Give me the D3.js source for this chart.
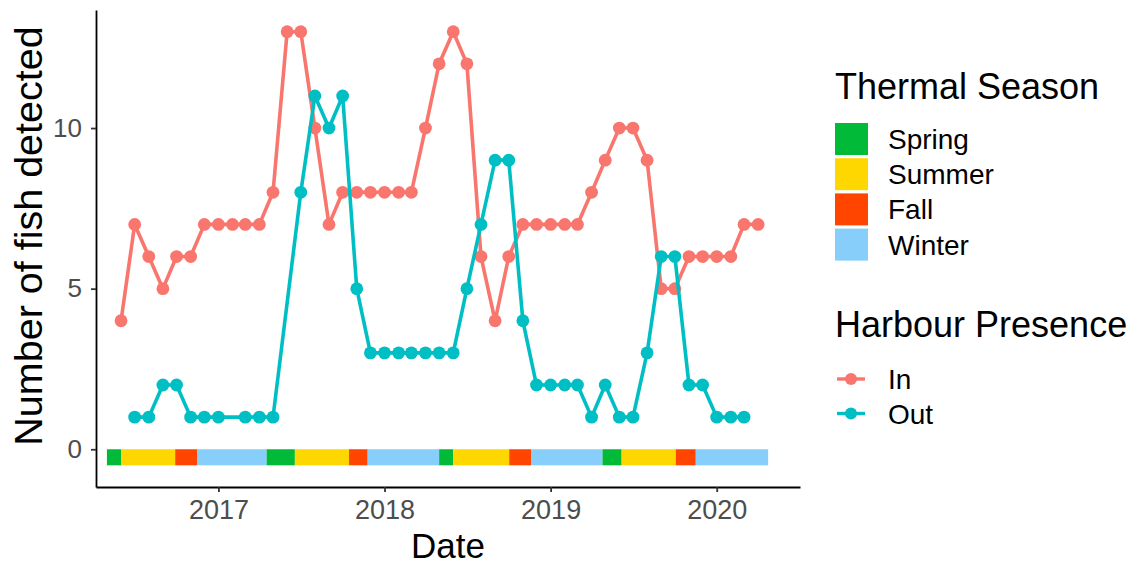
<!DOCTYPE html>
<html lang="en">
    <head>
        <meta charset="utf-8">
        <title>Fish detections by harbour presence</title>
        <script type="text/javascript" src="https://d3js.org/d3.v7.min.js"></script>
        <style type="text/css">
            body { margin: 0; background: #fff; }
            text { font-family: "Liberation Sans", Arial, sans-serif; }
        </style>
    </head>
    <body>
        <script type="text/javascript">

                const width = 1138;
                const height = 566;

                // monthly sample dates (first of month)
                const months = ["2016-06","2016-07","2016-08","2016-09","2016-10","2016-11","2016-12",
                                "2017-01","2017-02","2017-03","2017-04","2017-05","2017-06","2017-07","2017-08","2017-09","2017-10","2017-11","2017-12",
                                "2018-01","2018-02","2018-03","2018-04","2018-05","2018-06","2018-07","2018-08","2018-09","2018-10","2018-11","2018-12",
                                "2019-01","2019-02","2019-03","2019-04","2019-05","2019-06","2019-07","2019-08","2019-09","2019-10","2019-11","2019-12",
                                "2020-01","2020-02","2020-03","2020-04"];

                // number of fish detected, null = no record that month
                const inValues  = [4,7,6,5,6,6,7, 7,7,7,7,8,13,13,10,7,8,8,8, 8,8,8,10,12,13,12,6,4,6,7,7,
                                   7,7,7,8,9,10,10,9,5,5,6,6, 6,6,7,7];
                const outValues = [null,1,1,2,2,1,1, 1,null,1,1,1,null,8,11,10,11,5,3, 3,3,3,3,3,3,5,7,9,9,4,2,
                                   2,2,2,1,2,1,1,3,6,6,2,2, 1,1,1,null];

                // thermal season bands
                const seasonNames = ["Spring", "Summer", "Fall", "Winter"];
                const seasonColors = ["#00BA38", "#FFD700", "#FF4500", "#87CEFA"];
                const seasonBreaks = ["2016-05-01","2016-06-01","2016-09-28","2016-11-16",
                                      "2017-04-17","2017-06-18","2017-10-15","2017-11-25",
                                      "2018-05-01","2018-06-01","2018-10-02","2018-11-19",
                                      "2019-04-25","2019-06-06","2019-10-03","2019-11-16",
                                      "2020-04-23"];

                const presenceNames = ["In", "Out"];
                const presenceColors = ["#F8766D", "#00BFC4"];

                const yTicks = [0, 5, 10];
                const xTicks = ["2017-01-01","2018-01-01","2019-01-01","2020-01-01"];

                const parseMonth = d3.timeParse("%Y-%m");
                const parseDay = d3.timeParse("%Y-%m-%d");

                const xScale = d3.scaleTime()
                                 .domain([parseDay("2016-04-07"), parseDay("2020-07-02")])
                                 .range([96, 800]);
                const yScale = d3.scaleLinear()
                                 .domain([-1.175, 13.675])
                                 .range([487, 10]);

                const svg = d3.select("body")
                              .append("svg")
                              .attr("width", width)
                              .attr("height", height);

                svg.append("rect").attr("width", width).attr("height", height).attr("fill", "#fff");

                // season bar along the bottom
                const bands = seasonBreaks.slice(0, -1).map((s, i) => ({
                    start: parseDay(s),
                    end: parseDay(seasonBreaks[i + 1]),
                    season: i % 4
                }));
                svg.append("g")
                   .selectAll("rect")
                   .data(bands)
                   .enter()
                   .append("rect")
                   .attr("x", d => xScale(d.start))
                   .attr("width", d => xScale(d.end) - xScale(d.start))
                   .attr("y", yScale(0))
                   .attr("height", yScale(-0.5) - yScale(0))
                   .attr("fill", d => seasonColors[d.season]);

                // series
                const series = [inValues, outValues].map((vals, k) => ({
                    name: presenceNames[k],
                    color: presenceColors[k],
                    points: months.map((m, i) => ({date: parseMonth(m), value: vals[i]}))
                                  .filter(d => d.value !== null)
                }));

                const line = d3.line()
                               .x(d => xScale(d.date))
                               .y(d => yScale(d.value));

                series.forEach(s => {
                    svg.append("path")
                       .datum(s.points)
                       .attr("d", line)
                       .attr("fill", "none")
                       .attr("stroke", s.color)
                       .attr("stroke-width", 3.6)
                       .attr("stroke-linejoin", "round");
                    svg.append("g")
                       .selectAll("circle")
                       .data(s.points)
                       .enter()
                       .append("circle")
                       .attr("cx", d => xScale(d.date))
                       .attr("cy", d => yScale(d.value))
                       .attr("r", 6.4)
                       .attr("fill", s.color);
                });

                // axes
                const bottomAxis = d3.axisBottom(xScale)
                                     .tickValues(xTicks.map(parseDay))
                                     .tickFormat(d3.timeFormat("%Y"))
                                     .tickSizeInner(5)
                                     .tickSizeOuter(0)
                                     .tickPadding(8);
                const leftAxis = d3.axisLeft(yScale)
                                   .tickValues(yTicks)
                                   .tickSizeInner(5)
                                   .tickSizeOuter(0)
                                   .tickPadding(9);

                const gx = svg.append("g")
                              .attr("transform", "translate(0,487)")
                              .call(bottomAxis);
                const gy = svg.append("g")
                              .attr("transform", "translate(96,0)")
                              .call(leftAxis);

                [gx, gy].forEach(g => {
                    g.select(".domain").attr("stroke", "#000").attr("stroke-width", 1.8);
                    g.selectAll(".tick line").attr("stroke", "#333").attr("stroke-width", 1.8);
                    g.selectAll(".tick text")
                     .attr("fill", "#4D4D4D")
                     .style("font-family", "'Liberation Sans', Arial, sans-serif");
                });
                gx.selectAll(".tick text").style("font-size", "27px");
                gy.selectAll(".tick text").style("font-size", "26px");

                // axis titles
                svg.append("text")
                   .attr("x", 448)
                   .attr("y", 558)
                   .attr("text-anchor", "middle")
                   .style("font-size", "35px")
                   .text("Date");
                svg.append("text")
                   .attr("transform", "translate(42,236) rotate(-90)")
                   .attr("text-anchor", "middle")
                   .style("font-size", "39.5px")
                   .text("Number of fish detected");

                // legend: thermal season
                const leg1 = svg.append("g").attr("transform", "translate(835,0)");
                leg1.append("text")
                    .attr("x", 0).attr("y", 99)
                    .style("font-size", "36px")
                    .text("Thermal Season");
                const seasonKeys = leg1.selectAll("g.key")
                                       .data(seasonNames)
                                       .enter()
                                       .append("g")
                                       .attr("class", "key")
                                       .attr("transform", (d, i) => "translate(0," + (123 + i * 35.2) + ")");
                seasonKeys.append("rect")
                          .attr("width", 33).attr("height", 32)
                          .attr("fill", (d, i) => seasonColors[i]);
                seasonKeys.append("text")
                          .attr("x", 53).attr("y", 26)
                          .style("font-size", "28px")
                          .text(d => d);

                // legend: harbour presence
                const leg2 = svg.append("g").attr("transform", "translate(835,0)");
                leg2.append("text")
                    .attr("x", 0).attr("y", 337)
                    .style("font-size", "36px")
                    .text("Harbour Presence");
                const presKeys = leg2.selectAll("g.key")
                                     .data(presenceNames)
                                     .enter()
                                     .append("g")
                                     .attr("class", "key")
                                     .attr("transform", (d, i) => "translate(0," + (379 + i * 34.5) + ")");
                presKeys.append("line")
                        .attr("x1", 2).attr("x2", 30)
                        .attr("stroke", (d, i) => presenceColors[i])
                        .attr("stroke-width", 3.4);
                presKeys.append("circle")
                        .attr("cx", 16).attr("r", 6)
                        .attr("fill", (d, i) => presenceColors[i]);
                presKeys.append("text")
                        .attr("x", 53).attr("y", 10)
                        .style("font-size", "28px")
                        .text(d => d);

        </script>
    </body>
</html>
